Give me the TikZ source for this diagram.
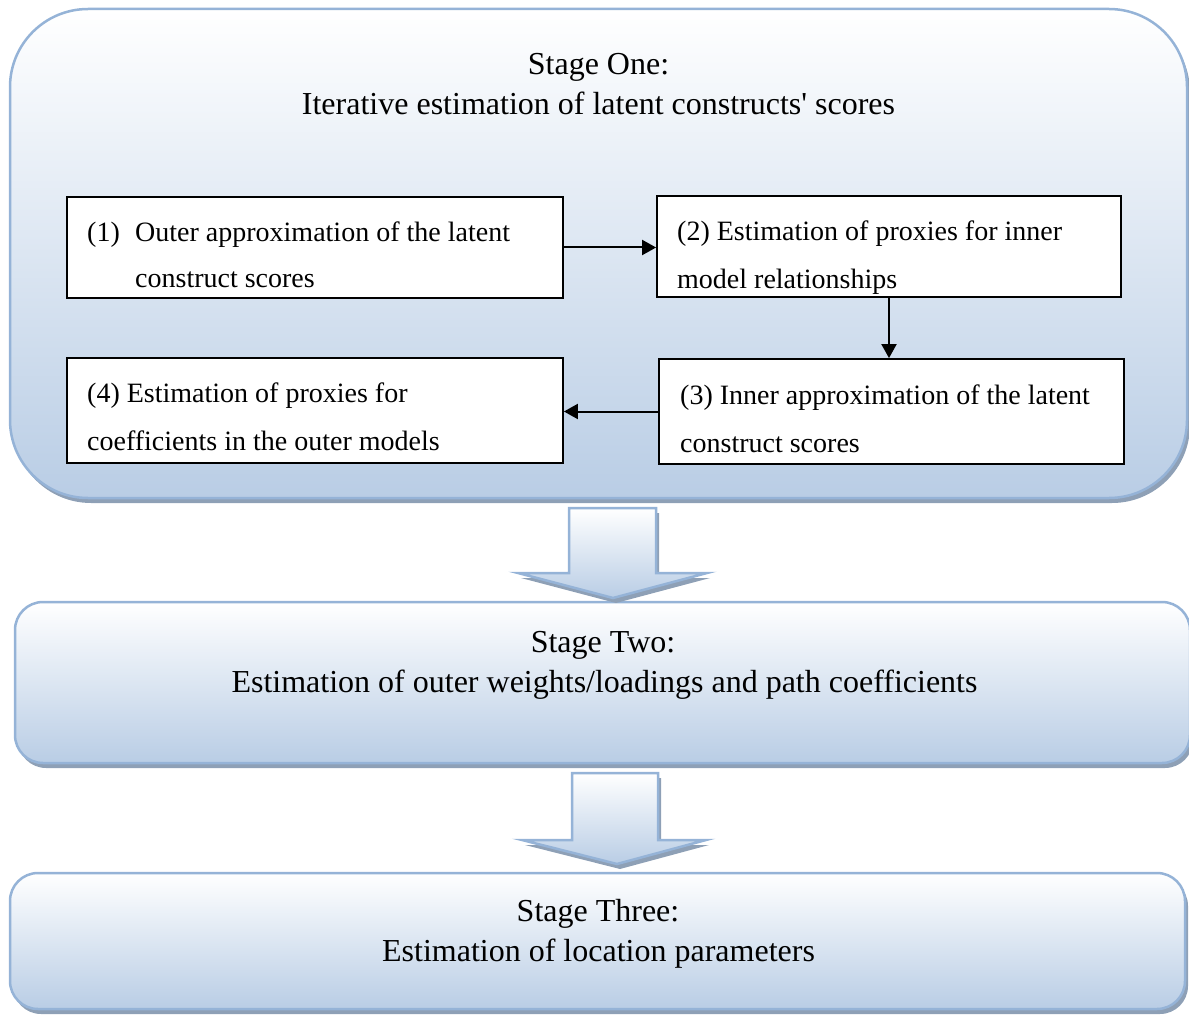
\documentclass[tikz,border=0pt]{standalone}
\usepackage{fontspec}
\setmainfont{Liberation Serif}
\usetikzlibrary{arrows.meta,shadows}
\definecolor{stageborder}{RGB}{149,179,215}
\definecolor{stageblue}{RGB}{185,205,229}
\definecolor{shadowc}{RGB}{142,160,182}
\begin{document}
\begin{tikzpicture}[x=1pt,y=-1pt,
  stagebox/.style={draw=stageborder, line width=2.5pt, top color=white, bottom color=stageblue,
    drop shadow={shadow xshift=3pt, shadow yshift=-5pt, fill=shadowc, opacity=1}, inner sep=0pt},
  bigarrow/.style={draw=stageborder, line width=2.5pt, line join=miter, top color=white, bottom color=stageblue,
    drop shadow={shadow xshift=3pt, shadow yshift=-5pt, fill=shadowc, opacity=1}},
  stepbox/.style={draw=black, line width=1.8pt, fill=white, inner sep=0pt},
  titletext/.style={font=\fontsize{32}{40}\selectfont, inner sep=0pt, anchor=base},
  boxtext/.style={font=\fontsize{28}{34}\selectfont, inner sep=0pt, anchor=base west},
  flow/.style={line width=2pt, -{Triangle[length=14pt,width=15pt]}}
]
\useasboundingbox (0,0) rectangle (1189,1016);

% stage containers
\node[stagebox, rounded corners=78pt, minimum width=1177pt, minimum height=489pt] (s1) at (598.5,253.5) {};
\node[stagebox, rounded corners=28pt, minimum width=1175pt, minimum height=161pt] (s2) at (602.5,682.5) {};
\node[stagebox, rounded corners=28pt, minimum width=1175pt, minimum height=136pt] (s3) at (597.5,941) {};

% big arrows between stages
\path[bigarrow] (569,508) -- (656,508) -- (656,573) -- (707,573) -- (613,598) -- (518,573) -- (569,573) -- cycle;
\path[bigarrow] (572,773) -- (658,773) -- (658,840) -- (706,840) -- (617,864) -- (522,840) -- (572,840) -- cycle;

% titles
\node[titletext] (t1a) at (598.5,75) {Stage One:};
\node[titletext] (t1b) at (598.5,115) {Iterative estimation of latent constructs\textquotesingle{} scores};
\node[titletext] (t2a) at (603,652) {Stage Two:};
\node[titletext] (t2b) at (604.5,692) {Estimation of outer weights/loadings and path coefficients};
\node[titletext] (t3a) at (598,921) {Stage Three:};
\node[titletext] (t3b) at (598.5,961) {Estimation of location parameters};

% step boxes
\node[stepbox, minimum width=496pt, minimum height=101pt] (b1) at (315,247.5) {};
\node[stepbox, minimum width=464pt, minimum height=101pt] (b2) at (889,246.5) {};
\node[stepbox, minimum width=465pt, minimum height=105pt] (b3) at (891.5,411.5) {};
\node[stepbox, minimum width=496pt, minimum height=105pt] (b4) at (315,410.5) {};

% step texts
\node[boxtext] (b1n) at (87,242) {(1)};
\node[boxtext] (b1a) at (135,242) {Outer approximation of the latent};
\node[boxtext] (b1b) at (135,288) {construct scores};
\begin{scope}
  \clip (658,197) rectangle (1120,295);
  \node[boxtext] (b2a) at (677,241) {(2) Estimation of proxies for inner};
  \node[boxtext] (b2b) at (677,289) {model relationships};
\end{scope}
\node[boxtext] (b3a) at (680,404) {(3) Inner approximation of the latent};
\node[boxtext] (b3b) at (680,452) {construct scores};
\node[boxtext] (b4a) at (87,402) {(4) Estimation of proxies for};
\node[boxtext] (b4b) at (87,450) {coefficients in the outer models};

% connectors
\draw[flow] (b1.east) -- (b1.east -| b2.west);
\draw[flow] (b2.south) -- (b2.south |- b3.north);
\draw[flow] (b3.west) -- (b3.west -| b4.east);
\end{tikzpicture}
\end{document}
